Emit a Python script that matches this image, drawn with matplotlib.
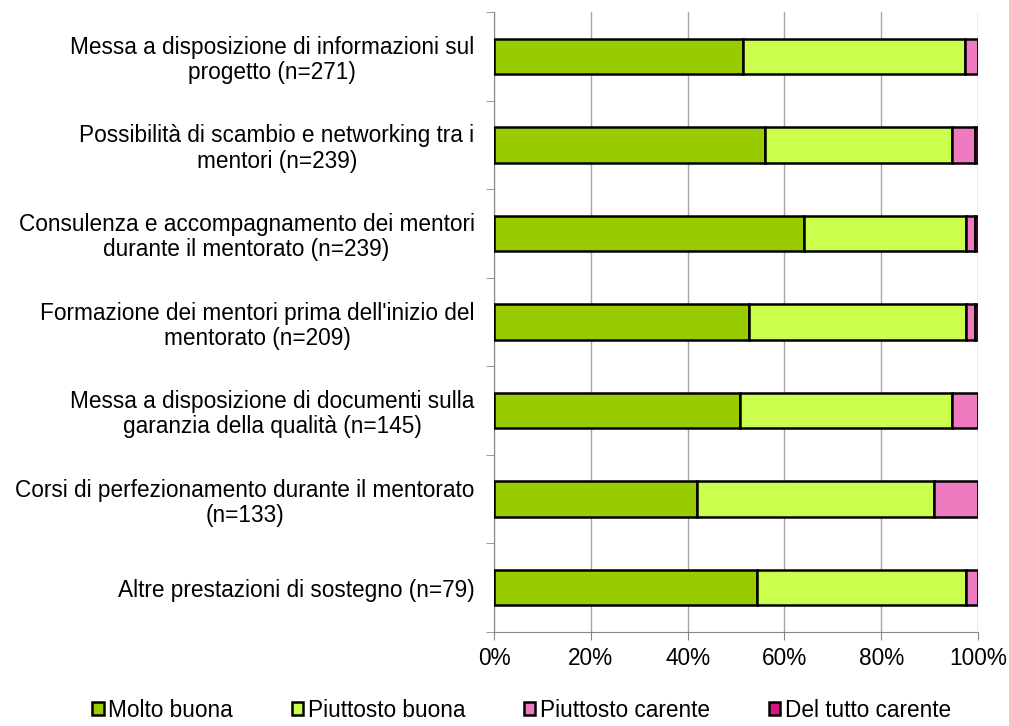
import numpy as np
import matplotlib.pyplot as plt
from matplotlib.ticker import FixedLocator, PercentFormatter

plt.rcParams['font.family'] = ['Liberation Sans', 'DejaVu Sans']

categories = [
    "Messa a disposizione di informazioni sul\nprogetto (n=271)",
    "Possibilità di scambio e networking tra i\nmentori (n=239)",
    "Consulenza e accompagnamento dei mentori\ndurante il mentorato (n=239)",
    "Formazione dei mentori prima dell'inizio del\nmentorato (n=209)",
    "Messa a disposizione di documenti sulla\ngaranzia della qualità (n=145)",
    "Corsi di perfezionamento durante il mentorato\n(n=133)",
    "Altre prestazioni di sostegno (n=79)",
]

# shares in percent per answer
molto_buona = [51.4, 55.9, 64.0, 52.6, 50.9, 41.9, 54.3]
piuttosto_buona = [45.9, 38.7, 33.5, 44.9, 43.7, 49.1, 43.2]
piuttosto_carente = [2.7, 4.8, 1.9, 1.9, 5.4, 9.0, 2.5]
del_tutto_carente = [0.0, 0.6, 0.6, 0.6, 0.0, 0.0, 0.0]

series = [
    ("Molto buona", molto_buona, "#99cc00"),
    ("Piuttosto buona", piuttosto_buona, "#ccff4d"),
    ("Piuttosto carente", piuttosto_carente, "#f07ac0"),
    ("Del tutto carente", del_tutto_carente, "#d4157c"),
]

fs = 16.3

fig = plt.figure(figsize=(10.09, 7.26), dpi=100)
ax = fig.add_axes([494 / 1009, 1 - 632 / 726, 484 / 1009, 620 / 726])

y = np.arange(len(categories))
left = np.zeros(len(categories))
for name, vals, color in series:
    ax.barh(y, vals, left=left, height=0.4, color=color,
            edgecolor="black", linewidth=1.8, label=name, zorder=3)
    left += np.array(vals)

ax.set_xlim(0, 100)
ax.set_ylim(len(categories) - 0.5, -0.5)
ax.set_xticks(np.arange(0, 101, 20))
ax.xaxis.set_major_formatter(PercentFormatter(decimals=0))
ax.grid(axis="x", color="#a6a6a6", linewidth=1, zorder=0)

ax.set_yticks(y)
ax.set_yticklabels(categories, fontsize=fs, multialignment="center",
                   linespacing=1.12)
ax.yaxis.set_minor_locator(FixedLocator(np.arange(-0.5, len(categories), 1)))
ax.tick_params(axis="y", which="major", length=0, pad=14)
ax.tick_params(axis="y", which="minor", length=6, color="#888888")
ax.tick_params(axis="x", length=6, color="#888888", labelsize=fs, pad=5)

for side in ["top", "right"]:
    ax.spines[side].set_visible(False)
for side in ["left", "bottom"]:
    ax.spines[side].set_color("#888888")

fig.legend(loc="lower center", ncol=4, bbox_to_anchor=(0.517, -0.022),
           frameon=False, fontsize=fs, handlelength=0.5, handleheight=0.5,
           handletextpad=0.2, columnspacing=2.6)

fig.savefig("out.png", dpi=100)
